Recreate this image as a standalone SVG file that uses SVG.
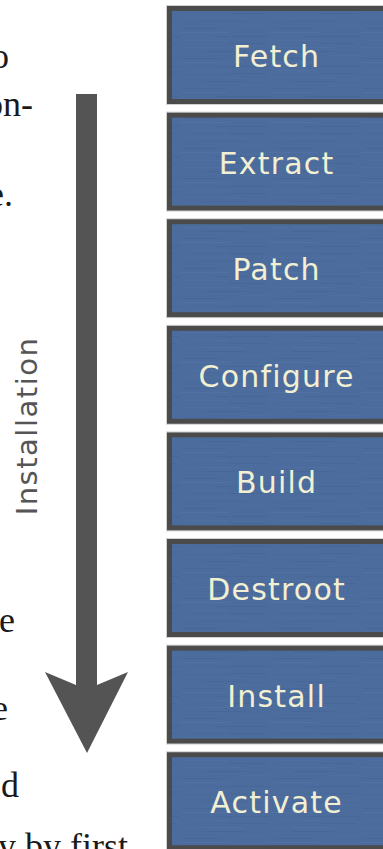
<svg xmlns="http://www.w3.org/2000/svg" width="383" height="849" viewBox="0 0 383 849">
  <defs>
    <!-- brushed blue surface for the step boxes -->
    <pattern id="brushed" width="90" height="30" patternUnits="userSpaceOnUse">
      <rect width="90" height="30" fill="#4b6c9d"/>
      <rect x="0" y="2" width="48" height="1" fill="#5a7aab" opacity="0.35"/>
      <rect x="35" y="6" width="55" height="1" fill="#3e5d8d" opacity="0.3"/>
      <rect x="8" y="10" width="40" height="1" fill="#5b7bab" opacity="0.3"/>
      <rect x="50" y="13" width="36" height="1" fill="#405f8f" opacity="0.35"/>
      <rect x="0" y="17" width="62" height="1" fill="#5877a7" opacity="0.3"/>
      <rect x="22" y="21" width="44" height="1" fill="#3f5d8c" opacity="0.3"/>
      <rect x="60" y="25" width="30" height="1" fill="#5a79a9" opacity="0.3"/>
      <rect x="4" y="28" width="38" height="1" fill="#405e8e" opacity="0.3"/>
    </pattern>
  </defs>
  <style>
    .prose { font-family: "Liberation Serif", "Times New Roman", serif; font-size: 36px; fill: #1a1a1a; text-anchor: end; }
    .halo { fill: none; stroke: #d2d2d2; stroke-width: 1; }
    .frame { fill: #4b4b4b; }
    .face { fill: url(#brushed); }
    .label { font-family: "DejaVu Sans", "Liberation Sans", sans-serif; font-size: 30px; letter-spacing: 1.2px; fill: #f2efd2; text-anchor: middle; }
    .arrow { fill: #545454; }
    .axis { font-family: "DejaVu Sans", "Liberation Sans", sans-serif; font-size: 29px; letter-spacing: 1.5px; fill: #555555; text-anchor: middle; }
  </style>

  <!-- surrounding body text, clipped at the left edge -->
  <g id="prose">
    <text class="prose" x="9" y="68">o</text>
    <text class="prose" x="33" y="116">on-</text>
    <text class="prose" x="13" y="206">e.</text>
    <text class="prose" x="15" y="632">e</text>
    <text class="prose" x="8" y="720">e</text>
    <text class="prose" x="19" y="797">d</text>
    <text class="prose" x="128" y="858">y by first</text>
  </g>

  <!-- direction of the installation sequence -->
  <g id="connectors">
    <polygon class="arrow" points="76,94 97,94 97,685 128,672 87,753 45,672 76,685"/>
    <text class="axis" transform="translate(37,426) rotate(-90)" x="0" y="0">Installation</text>
  </g>

  <g id="fetch">
    <rect class="halo" x="166.5" y="5.5" width="222" height="99"/>
    <rect class="frame" x="167" y="6" width="221" height="98"/>
    <rect class="face" x="172" y="11" width="211" height="88"/>
    <text class="label" x="276.6" y="67">Fetch</text>
  </g>
  <g id="extract">
    <rect class="halo" x="166.5" y="112.1" width="222" height="99"/>
    <rect class="frame" x="167" y="112.6" width="221" height="98"/>
    <rect class="face" x="172" y="117.6" width="211" height="88"/>
    <text class="label" x="276.6" y="173.6">Extract</text>
  </g>
  <g id="patch">
    <rect class="halo" x="166.5" y="218.7" width="222" height="99"/>
    <rect class="frame" x="167" y="219.2" width="221" height="98"/>
    <rect class="face" x="172" y="224.2" width="211" height="88"/>
    <text class="label" x="276.6" y="280.2">Patch</text>
  </g>
  <g id="configure">
    <rect class="halo" x="166.5" y="325.3" width="222" height="99"/>
    <rect class="frame" x="167" y="325.8" width="221" height="98"/>
    <rect class="face" x="172" y="330.8" width="211" height="88"/>
    <text class="label" x="276.6" y="386.8">Configure</text>
  </g>
  <g id="build">
    <rect class="halo" x="166.5" y="431.9" width="222" height="99"/>
    <rect class="frame" x="167" y="432.4" width="221" height="98"/>
    <rect class="face" x="172" y="437.4" width="211" height="88"/>
    <text class="label" x="276.6" y="493.4">Build</text>
  </g>
  <g id="destroot">
    <rect class="halo" x="166.5" y="538.5" width="222" height="99"/>
    <rect class="frame" x="167" y="539" width="221" height="98"/>
    <rect class="face" x="172" y="544" width="211" height="88"/>
    <text class="label" x="276.6" y="600">Destroot</text>
  </g>
  <g id="install">
    <rect class="halo" x="166.5" y="645.1" width="222" height="99"/>
    <rect class="frame" x="167" y="645.6" width="221" height="98"/>
    <rect class="face" x="172" y="650.6" width="211" height="88"/>
    <text class="label" x="276.6" y="706.6">Install</text>
  </g>
  <g id="activate">
    <rect class="halo" x="166.5" y="751.7" width="222" height="99"/>
    <rect class="frame" x="167" y="752.2" width="221" height="98"/>
    <rect class="face" x="172" y="757.2" width="211" height="88"/>
    <text class="label" x="276.6" y="813.2">Activate</text>
  </g>
</svg>
